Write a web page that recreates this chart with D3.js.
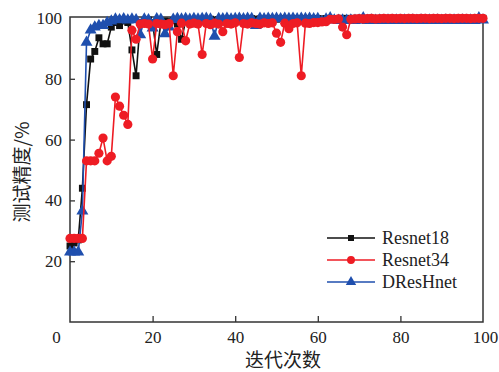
<!DOCTYPE html>
<html><head><meta charset="utf-8">
<script src="https://cdn.jsdelivr.net/npm/d3@7"></script>
<style>body{margin:0;background:#fff;}svg{display:block;}</style>
</head><body>
<svg id="c" width="499" height="372"></svg>
<script>
const epochs = d3.range(0, 101);
const xTicks = [0, 20, 40, 60, 80, 100];
const yTicks = [20, 40, 60, 80, 100];
const seriesNames = ["Resnet18", "Resnet34", "DResHnet"];
const resnet18 = [
 25,26,27,44,71.5,86.5,89,93.5,91.5,91.5,
 97,98.5,97.5,99,98.5,89.5,81,98.5,99,99.3,
 98.5,88,98.5,99,98.8,99.2,98,93,99,99.3,
 99.5,98.8,99.5,99.4,99.6,99.2,99.5,99.6,99.4,99.7,
 99.5,99.6,99.7,99.5,99.8,99.6,99.7,99.5,99.8,99.7,
 99.6,99.8,99.7,99.6,99.8,99.7,99.8,99.6,99.8,99.7,
 99.8,99.7,99.8,99.9,99.7,99.8,99.9,99.8,99.9,99.8,
 99.9,99.8,99.9,99.9,99.8,99.9,99.9,99.8,99.9,99.9,
 99.8,99.9,99.9,99.8,99.9,99.9,99.8,99.9,99.9,99.8,
 99.9,99.9,99.8,99.9,99.9,99.8,99.9,99.9,99.8,99.9,99.9
];
const resnet34 = [
 27.5,27.5,27.5,27.5,53,53,53,55.5,60.5,53,
 54.5,74,71,68,65,96,93,98,98.2,98,
 86.5,98.2,98,97.8,98.2,81,95.5,98.3,92.5,98,
 98.3,98,88,98.2,97.8,98.3,98,95.5,98.2,98,
 98.4,87,98.2,98,98.4,98.2,98,98.4,98.2,98.4,
 95,92,98.3,96.5,98.2,98.4,81,98.3,98.2,98.5,
 98.5,98.7,98.8,99.6,99.5,99.7,97,94.5,99.6,99.7,
 99.8,99.7,99.8,99.9,99.7,99.8,99.9,99.8,99.9,99.8,
 99.9,99.8,99.9,99.9,99.8,99.9,99.9,99.8,99.9,99.9,
 99.8,99.9,99.9,99.8,99.9,99.9,99.9,99.8,99.9,99.9,99.9
];
const dreshnet = [
 23,23,23,36.5,92,96,97,97.5,97.5,98.5,
 99,99.6,99.4,99.7,99.3,99.6,99.4,94.5,99.6,99.4,
 96.7,99.7,99.5,94.8,97,99.5,99.8,99.6,99.8,99.5,
 99.8,99.6,99.8,99.9,99.6,94,99.8,99.7,99.9,99.6,
 99.8,99.9,99.7,99.9,99.8,97.5,99.9,99.7,99.9,99.8,
 99.9,99.7,99.9,99.8,99.9,99.7,99.9,99.8,99.9,99.7,
 99.8,98.8,99.6,100,99.3,99.2,99.3,99.2,99.3,99.2,
 99.3,100,99.2,99.3,99.2,99.3,99.2,99.3,99.2,99.3,
 99.2,99.3,99.2,99.3,99.2,99.3,99.2,99.3,99.2,99.3,
 99.2,99.3,99.2,99.3,99.2,99.3,99.2,99.3,99.2,100,99.3
];
const colors = ["#111111", "#ee1c24", "#1f4fae"];

const svg = d3.select("#c");
const L = 70, R = 483, T = 18, B = 322;
const x = d3.scaleLinear().domain([0, 100]).range([L, R]);
const y = d3.scaleLinear().domain([0, 100]).range([B, T]);
const serif = "'Liberation Serif','Times New Roman',serif";
const cjk = "'Noto Sans CJK SC',sans-serif";

// frame
svg.append("rect").attr("x", L).attr("y", T - 1).attr("width", R - L).attr("height", B - T + 1)
  .attr("fill", "none").attr("stroke", "#333").attr("stroke-width", 1.5);

// axes (inner ticks)
const xAxis = svg.append("g").attr("transform", `translate(0,${B})`)
  .call(d3.axisBottom(x).tickValues(xTicks).tickSize(-6).tickPadding(9));
xAxis.select(".domain").remove();
xAxis.selectAll("line").attr("stroke", "#333").attr("stroke-width", 1.3)
  .filter(d => d === 0 || d === 100).remove();
xAxis.selectAll("text").attr("font-family", serif).attr("font-size", 17).attr("fill", "#222")
  .attr("dx", d => d === 0 ? -14 : (d === 100 ? 2 : 0));

const yAxis = svg.append("g").attr("transform", `translate(${L},0)`)
  .call(d3.axisLeft(y).tickValues(yTicks).tickSize(-5).tickPadding(8));
yAxis.select(".domain").remove();
yAxis.selectAll("line").attr("stroke", "#333").attr("stroke-width", 1.3)
  .filter(d => d === 100).remove();
yAxis.selectAll("text").attr("font-family", serif).attr("font-size", 17).attr("fill", "#222");

// axis titles
svg.append("text").attr("x", 283).attr("y", 367).attr("text-anchor", "middle")
  .attr("font-family", cjk).attr("font-size", 19).attr("fill", "#222").text("迭代次数");
svg.append("text").attr("transform", "translate(29,172) rotate(-90)").attr("text-anchor", "middle")
  .attr("font-family", cjk).attr("font-size", 19).attr("fill", "#222").text("测试精度/%");

const data = [resnet18, resnet34, dreshnet];
const symbols = [d3.symbolSquare, d3.symbolCircle, d3.symbolTriangle];
const sizes = [48, 66, 62];
const line = d3.line().x((d, i) => x(epochs[i])).y(d => y(d));

// draw order: black, blue, red
[0, 2, 1].forEach(k => {
  const g = svg.append("g");
  g.append("path").datum(data[k]).attr("d", line).attr("fill", "none")
    .attr("stroke", colors[k]).attr("stroke-width", 1.6);
  g.selectAll("path.m").data(data[k]).enter().append("path").attr("class", "m")
    .attr("transform", (d, i) => `translate(${x(epochs[i])},${y(d)})`)
    .attr("d", d3.symbol().type(symbols[k]).size(sizes[k]))
    .attr("fill", colors[k]);
});

// legend
const lg = svg.append("g");
seriesNames.forEach((name, k) => {
  const yy = 238 + k * 22;
  lg.append("line").attr("x1", 327).attr("x2", 375).attr("y1", yy).attr("y2", yy)
    .attr("stroke", colors[k]).attr("stroke-width", 1.6);
  lg.append("path").attr("transform", `translate(351,${yy})`)
    .attr("d", d3.symbol().type(symbols[k]).size(sizes[k] * 0.75)).attr("fill", colors[k]);
  lg.append("text").attr("x", 382).attr("y", yy + 6).attr("font-family", serif)
    .attr("font-size", 18).attr("fill", "#222").text(name);
});
</script>
</body></html>
